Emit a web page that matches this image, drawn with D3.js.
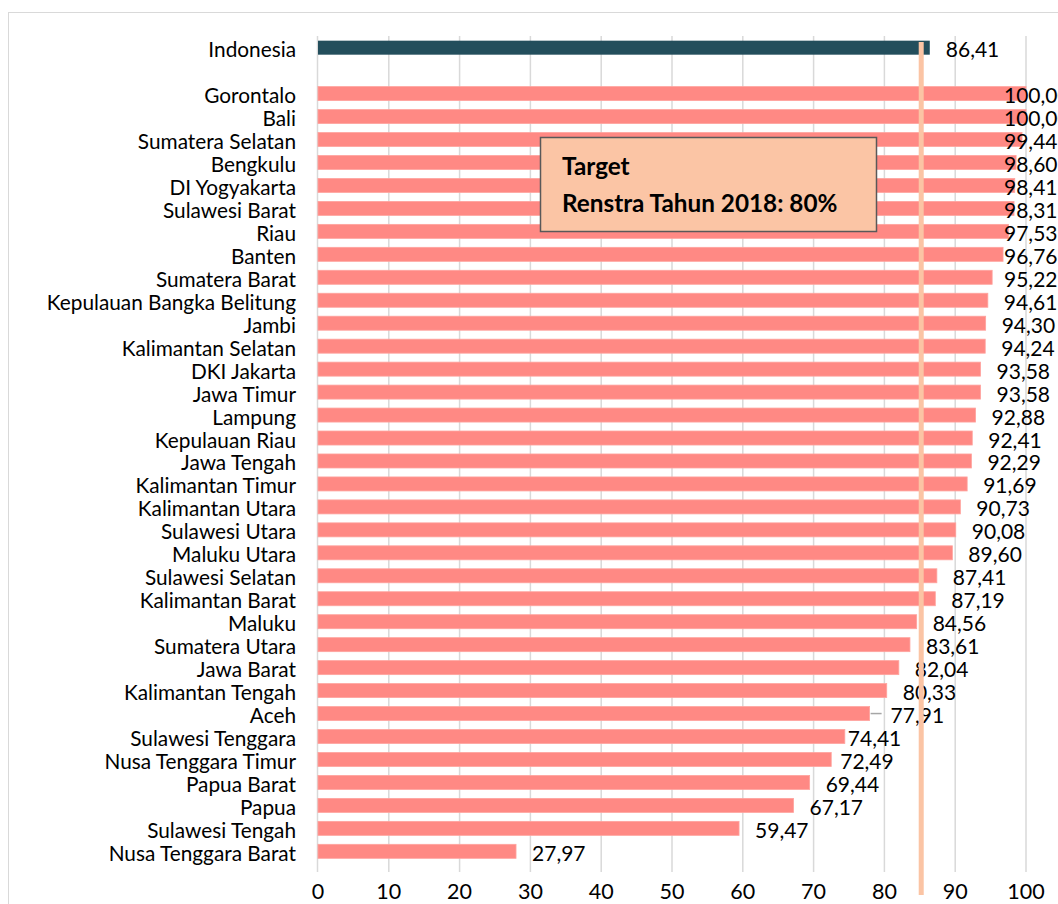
<!DOCTYPE html>
<html>
<head>
<meta charset="utf-8">
<script src="https://cdn.jsdelivr.net/npm/d3@7"></script>
<style>
  html, body { margin: 0; padding: 0; background: #fff; }
  svg { display: block; }
  text { font-family: Lato, "Open Sans", sans-serif; }
</style>
</head>
<body>
<svg id="chart" width="1058" height="904"></svg>
<script>
// National figure shown on its own row above the provinces
const nationalName = "Indonesia";
const nationalValue = 86.41;

// Provinces, sorted from highest to lowest
const provinces = [
  "Gorontalo", "Bali", "Sumatera Selatan", "Bengkulu", "DI Yogyakarta",
  "Sulawesi Barat", "Riau", "Banten", "Sumatera Barat", "Kepulauan Bangka Belitung",
  "Jambi", "Kalimantan Selatan", "DKI Jakarta", "Jawa Timur", "Lampung",
  "Kepulauan Riau", "Jawa Tengah", "Kalimantan Timur", "Kalimantan Utara", "Sulawesi Utara",
  "Maluku Utara", "Sulawesi Selatan", "Kalimantan Barat", "Maluku", "Sumatera Utara",
  "Jawa Barat", "Kalimantan Tengah", "Aceh", "Sulawesi Tenggara", "Nusa Tenggara Timur",
  "Papua Barat", "Papua", "Sulawesi Tengah", "Nusa Tenggara Barat"
];
const provinceValues = [
  100.00, 100.00, 99.44, 98.60, 98.41,
  98.31, 97.53, 96.76, 95.22, 94.61,
  94.30, 94.24, 93.58, 93.58, 92.88,
  92.41, 92.29, 91.69, 90.73, 90.08,
  89.60, 87.41, 87.19, 84.56, 83.61,
  82.04, 80.33, 77.91, 74.41, 72.49,
  69.44, 67.17, 59.47, 27.97
];

const xTicks = [0, 10, 20, 30, 40, 50, 60, 70, 80, 90, 100];

// Vertical marker and its annotation
const targetMarker = 85.2;
const targetLines = ["Target", "Renstra Tahun 2018: 80%"];

// ---- layout ----
const svg = d3.select("#chart");
const W = 1058, H = 904;
const plotLeft = 318, plotRight = 1026;
const gridTop = 36, gridBottom = 872;

const spacer = "__gap__";
const rows = [nationalName, spacer].concat(provinces);
const valueOf = new Map([[nationalName, nationalValue]]);
provinces.forEach((p, i) => valueOf.set(p, provinceValues[i]));

const x = d3.scaleLinear().domain([0, 100]).range([plotLeft, plotRight]);
const y = d3.scaleBand().domain(rows).range([36.2, 862.8])
  .paddingInner(0.39).paddingOuter(0.195);

const fmt = v => d3.format(".2f")(v).replace(".", ",");

// outer chart frame
svg.append("rect")
  .attr("x", 8.5).attr("y", 12.5)
  .attr("width", W + 10).attr("height", H + 10)
  .attr("fill", "#fff").attr("stroke", "#d9d9d9").attr("stroke-width", 1);

// vertical gridlines
svg.append("g").selectAll("line")
  .data(xTicks.filter(t => t > 0))
  .join("line")
  .attr("x1", d => x(d)).attr("x2", d => x(d))
  .attr("y1", gridTop).attr("y2", gridBottom)
  .attr("stroke", "#d9d9d9").attr("stroke-width", 1.5);

// category axis line
svg.append("line")
  .attr("x1", x(0) - 0.5).attr("x2", x(0) - 0.5)
  .attr("y1", gridTop).attr("y2", gridBottom)
  .attr("stroke", "#d9d9d9").attr("stroke-width", 1.5);

const dataRows = rows.filter(r => r !== spacer);

// bars
svg.append("g").selectAll("rect")
  .data(dataRows)
  .join("rect")
  .attr("x", x(0))
  .attr("y", d => y(d))
  .attr("width", d => x(valueOf.get(d)) - x(0))
  .attr("height", y.bandwidth())
  .attr("fill", d => d === nationalName ? "#234e5c" : "#ff8984")
  .attr("stroke", d => d === nationalName ? "none" : "#ffa39e")
  .attr("stroke-width", 0.8);

// category labels
svg.append("g").selectAll("text")
  .data(dataRows)
  .join("text")
  .attr("x", 296)
  .attr("y", d => y(d) + y.bandwidth() / 2 + 1)
  .attr("text-anchor", "end")
  .attr("dominant-baseline", "central")
  .attr("font-size", 20.8)
  .attr("fill", "#000")
  .text(d => d);

// value labels: placed past the bar end, held inside the frame on the right
const labelGap = 16, labelMaxX = 1004;
const labelNudge = { "Aceh": 5, "Sulawesi Tenggara": -13, "Nusa Tenggara Timur": -7 };
const labelX = d => Math.min(x(valueOf.get(d)) + labelGap + (labelNudge[d] || 0), labelMaxX);

// leader line for the shifted Aceh label
svg.append("line")
  .attr("x1", x(valueOf.get("Aceh")) + 1)
  .attr("x2", x(valueOf.get("Aceh")) + 12)
  .attr("y1", y("Aceh") + y.bandwidth() / 2)
  .attr("y2", y("Aceh") + y.bandwidth() / 2)
  .attr("stroke", "#a6a6a6").attr("stroke-width", 1.5);

svg.append("g").selectAll("text")
  .data(dataRows)
  .join("text")
  .attr("x", labelX)
  .attr("y", d => y(d) + y.bandwidth() / 2 + 1)
  .attr("dominant-baseline", "central")
  .attr("font-size", 21)
  .attr("fill", "#000")
  .text(d => fmt(valueOf.get(d)));

// x axis tick labels
svg.append("g").selectAll("text")
  .data(xTicks)
  .join("text")
  .attr("x", d => x(d))
  .attr("y", 891)
  .attr("text-anchor", "middle")
  .attr("dominant-baseline", "central")
  .attr("font-size", 21.5)
  .attr("fill", "#000")
  .text(d => d);

// target marker line (drawn above bars and labels)
svg.append("rect")
  .attr("x", x(targetMarker) - 2.5)
  .attr("y", 42)
  .attr("width", 5)
  .attr("height", 853)
  .attr("fill", "#fbc4a4");

// annotation box
const box = svg.append("g");
box.append("rect")
  .attr("x", 540.5).attr("y", 137.5)
  .attr("width", 336).attr("height", 94)
  .attr("fill", "#fbc5a5")
  .attr("stroke", "#595959").attr("stroke-width", 1.5);
box.selectAll("text")
  .data(targetLines)
  .join("text")
  .attr("x", 562)
  .attr("y", (d, i) => 175 + i * 36.5)
  .attr("font-size", 24.3)
  .attr("font-weight", "bold")
  .attr("fill", "#000")
  .text(d => d);
</script>
</body>
</html>
